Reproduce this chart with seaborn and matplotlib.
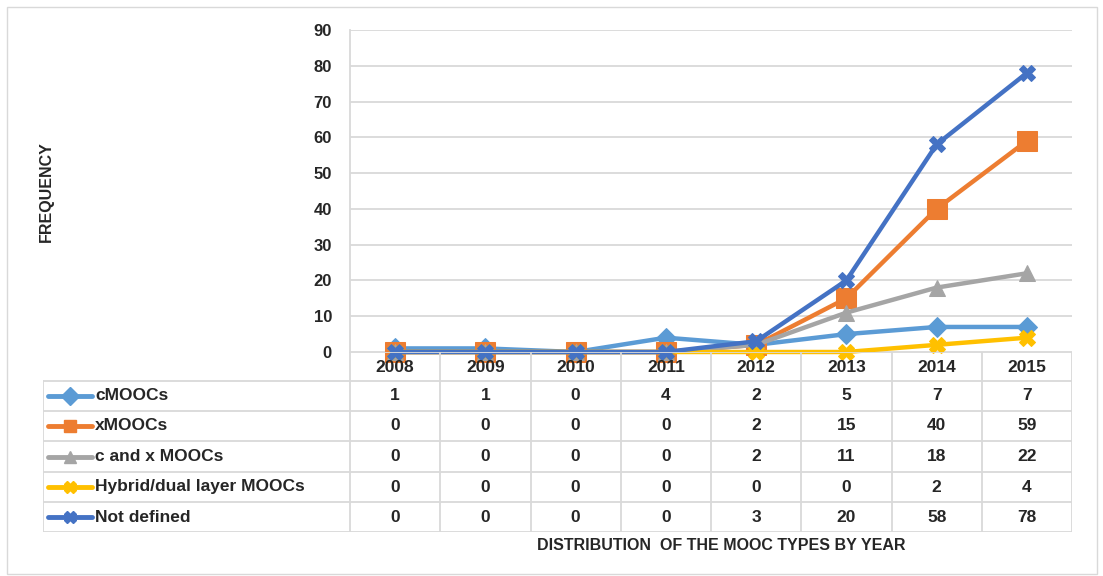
import numpy as np
import pandas as pd
import matplotlib
matplotlib.use("Agg")
import matplotlib.pyplot as plt
import matplotlib.transforms as mtransforms
from matplotlib.patches import Rectangle
from matplotlib.lines import Line2D
import seaborn as sns

# Data
years = ["2008", "2009", "2010", "2011", "2012", "2013", "2014", "2015"]
series_names = ["cMOOCs", "xMOOCs", "c and x MOOCs", "Hybrid/dual layer MOOCs", "Not defined"]
cmoocs = [1, 1, 0, 4, 2, 5, 7, 7]
xmoocs = [0, 0, 0, 0, 2, 15, 40, 59]
cx_moocs = [0, 0, 0, 0, 2, 11, 18, 22]
hybrid = [0, 0, 0, 0, 0, 0, 2, 4]
not_defined = [0, 0, 0, 0, 3, 20, 58, 78]
values = [cmoocs, xmoocs, cx_moocs, hybrid, not_defined]

colors = ["#5B9BD5", "#ED7D31", "#A5A5A5", "#FFC000", "#4472C4"]
markers = ["D", "s", "^", "X", "X"]
msizes = [10, 14, 12, 12, 12]

sns.set_theme(style="white")
plt.rcParams["font.family"] = ["Liberation Sans", "DejaVu Sans"]

W, H = 1103, 576
fig = plt.figure(figsize=(W / 100, H / 100), dpi=100)

def fx(px):
    return px / W

def fy(py):
    return 1 - py / H

# outer frame
fig.patches.append(Rectangle((fx(7), fy(574)), fx(1097) - fx(7), fy(7) - fy(574),
                             transform=fig.transFigure, fill=False,
                             edgecolor="#D9D9D9", lw=1))

ax_l, ax_r, ax_t, ax_b = 350, 1072, 30, 352
ax = fig.add_axes([fx(ax_l), fy(ax_b), fx(ax_r) - fx(ax_l), fy(ax_t) - fy(ax_b)])

df = pd.DataFrame({"year": years * len(series_names),
                   "series": np.repeat(series_names, len(years)),
                   "value": np.concatenate(values)})

for name, col, mk, ms in zip(series_names, colors, markers, msizes):
    sub = df[df["series"] == name]
    sns.lineplot(data=sub, x="year", y="value", ax=ax, color=col, lw=3.2,
                 marker=mk, markersize=ms, markeredgecolor=col, sort=False,
                 legend=False, zorder=3)

ax.set_xlim(-0.5, len(years) - 0.5)
ax.set_ylim(0, 90)
ax.set_yticks(range(0, 91, 10))
ax.yaxis.grid(True, color="#D9D9D9", lw=1.3)
ax.set_axisbelow(True)
for s in ["top", "right", "bottom"]:
    ax.spines[s].set_visible(False)
ax.spines["left"].set_color("#D9D9D9")
ax.spines["left"].set_linewidth(1.3)
ax.set_xticks([])
ax.set_xlabel("")
ax.set_ylabel("")
ax.tick_params(axis="y", length=0, pad=13, labelsize=12, labelcolor="#262626")
for lab in ax.get_yticklabels():
    lab.set_fontweight("bold")
for ln in ax.lines:
    ln.set_clip_on(False)

# data table below the plot
tab_l, tab_b = 43, 532
tax = fig.add_axes([fx(tab_l), fy(tab_b), fx(ax_r) - fx(tab_l), fy(ax_b) - fy(tab_b)])
tax.set_xlim(tab_l, ax_r)
tax.set_ylim(tab_b, ax_b)
tax.axis("off")
blend = mtransforms.blended_transform_factory(ax.transData, tax.transData)

row_edges = [352, 381, 411, 441, 472, 502, 532]
grid_kw = dict(color="#D9D9D9", lw=1.3)
tax.plot([ax_l, ax_r], [row_edges[0], row_edges[0]], **grid_kw)
for yy in row_edges[1:]:
    tax.plot([tab_l, ax_r], [yy, yy], **grid_kw)
tax.plot([tab_l, tab_l], [row_edges[1], row_edges[-1]], **grid_kw)
for i in range(len(years) + 1):
    tax.plot([i - 0.5, i - 0.5], [row_edges[0], row_edges[-1]], transform=blend, **grid_kw)

# header row with years
for i, yr in enumerate(years):
    tax.text(i, (row_edges[0] + row_edges[1]) / 2 + 1, yr, transform=blend,
             ha="center", va="center", fontsize=12.5, fontweight="bold", color="#262626")

# series rows
for r, (name, col, mk, vals) in enumerate(zip(series_names, colors, markers, values)):
    yc = (row_edges[r + 1] + row_edges[r + 2]) / 2
    tax.add_line(Line2D([48, 92], [yc, yc], color=col, lw=3.5))
    tax.add_line(Line2D([70], [yc], marker=mk, color=col, markersize=9))
    tax.text(95, yc, name, ha="left", va="center", fontsize=12.5,
             fontweight="bold", color="#262626")
    for i, v in enumerate(vals):
        tax.text(i, yc, str(v), transform=blend, ha="center", va="center",
                 fontsize=12.5, fontweight="bold", color="#262626")

fig.text(fx(721), fy(546), "DISTRIBUTION  OF THE MOOC TYPES BY YEAR", ha="center",
         va="center", fontsize=11.5, fontweight="bold", color="#262626")
fig.text(fx(46), fy(192), "FREQUENCY", ha="center", va="center", rotation=90,
         fontsize=11.5, fontweight="bold", color="#262626")

fig.savefig("out.png", dpi=100, facecolor="white")
